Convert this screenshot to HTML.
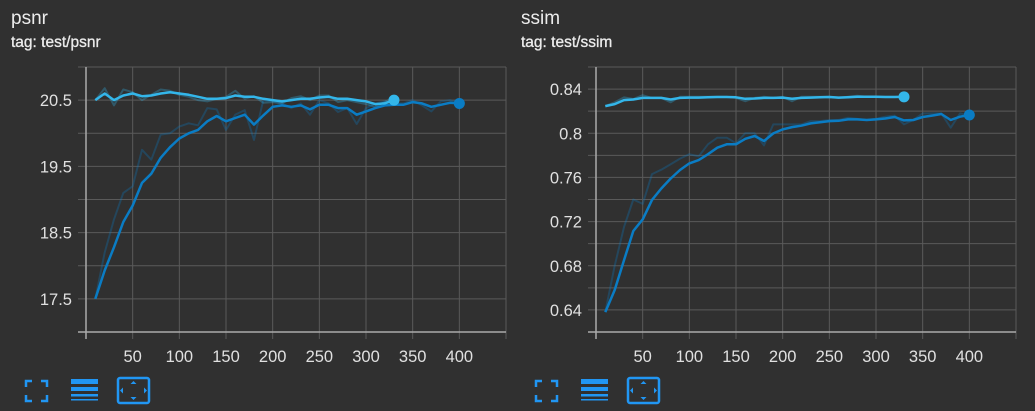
<!DOCTYPE html>
<html><head><meta charset="utf-8">
<style>
html,body{margin:0;padding:0;background:#303030;width:1035px;height:411px;overflow:hidden;font-family:"Liberation Sans",sans-serif;}
svg{position:absolute;left:0;top:0;}
</style></head>
<body>
<svg id="chart" width="1035" height="411" viewBox="0 0 1035 411"></svg>
<script>
const steps1 = [10,20,30,40,50,60,70,80,90,100,110,120,130,140,150,160,170,180,190,200,210,220,230,240,250,260,270,280,290,300,310,320,330];
const steps2 = [10,20,30,40,50,60,70,80,90,100,110,120,130,140,150,160,170,180,190,200,210,220,230,240,250,260,270,280,290,300,310,320,330,340,350,360,370,380,390,400];
const xTicks = [50,100,150,200,250,300,350,400];

const psnrLightSmooth = [20.5,20.6,20.5,20.57,20.6,20.56,20.57,20.6,20.62,20.6,20.58,20.55,20.52,20.52,20.53,20.57,20.55,20.55,20.52,20.5,20.48,20.5,20.52,20.52,20.54,20.55,20.52,20.52,20.5,20.48,20.44,20.45,20.5];
const psnrLightRaw = [20.5,20.68,20.42,20.66,20.62,20.5,20.58,20.66,20.64,20.58,20.55,20.5,20.48,20.52,20.55,20.64,20.52,20.56,20.46,20.47,20.45,20.53,20.56,20.5,20.57,20.57,20.47,20.5,20.47,20.44,20.4,20.47,20.55];
const psnrDarkSmooth = [17.5,17.93,18.28,18.66,18.91,19.25,19.39,19.63,19.79,19.92,20.0,20.05,20.18,20.26,20.18,20.23,20.28,20.13,20.27,20.4,20.42,20.4,20.42,20.36,20.43,20.43,20.38,20.38,20.28,20.33,20.38,20.42,20.43,20.43,20.47,20.45,20.4,20.43,20.46,20.45];
const psnrDarkRaw = [17.5,18.2,18.7,19.1,19.2,19.75,19.6,19.98,20.0,20.1,20.15,20.12,20.38,20.36,20.05,20.28,20.35,19.9,20.5,20.48,20.45,20.38,20.45,20.28,20.5,20.45,20.32,20.38,20.14,20.38,20.45,20.48,20.45,20.45,20.5,20.42,20.33,20.48,20.5,20.45];
const psnrTicks = [17.5,18.5,19.5,20.5];

const ssimLightSmooth = [0.8246,0.8264,0.83,0.8306,0.832,0.832,0.832,0.8306,0.832,0.8323,0.8323,0.8326,0.8328,0.8328,0.8326,0.8312,0.8315,0.832,0.832,0.8323,0.8312,0.832,0.8323,0.8326,0.8328,0.8323,0.8326,0.833,0.833,0.833,0.8328,0.8328,0.833];
const ssimLightRaw = [0.8246,0.828,0.8325,0.831,0.8345,0.832,0.832,0.828,0.833,0.833,0.833,0.833,0.833,0.833,0.832,0.829,0.832,0.833,0.832,0.833,0.829,0.833,0.833,0.833,0.833,0.832,0.833,0.834,0.833,0.833,0.833,0.833,0.833];
const ssimDarkSmooth = [0.638,0.658,0.685,0.7115,0.722,0.7396,0.75,0.759,0.7667,0.7727,0.7757,0.781,0.7869,0.79,0.79,0.795,0.7975,0.793,0.7999,0.8035,0.8056,0.8068,0.8089,0.81,0.811,0.8113,0.8125,0.8125,0.812,0.8125,0.8134,0.8147,0.8116,0.812,0.8147,0.816,0.8174,0.812,0.815,0.8165];
const ssimDarkRaw = [0.638,0.68,0.715,0.74,0.736,0.763,0.767,0.772,0.777,0.781,0.779,0.79,0.796,0.796,0.791,0.8,0.8,0.789,0.808,0.808,0.808,0.808,0.811,0.811,0.812,0.812,0.814,0.813,0.812,0.813,0.815,0.816,0.808,0.812,0.818,0.818,0.818,0.805,0.818,0.816];
const ssimTicks = [0.64,0.68,0.72,0.76,0.8,0.84];

const NS = "http://www.w3.org/2000/svg";
const svg = document.getElementById('chart');
function mk(tag, attrs, parent){
  const e = document.createElementNS(NS, tag);
  for (const k in attrs) e.setAttribute(k, attrs[k]);
  (parent||svg).appendChild(e);
  return e;
}
const LIGHT = "#33b6ea", DARK = "#0a7cc4";

function drawChart(o){
  const g = mk('g', {});
  
  
  const x0 = o.left, x1 = o.left + 420, yTop = 67, yBot = 332;
  const xs = v => x0 + (v - 0) / 450 * 420;
  const ys = v => yBot - (v - o.ymin) / (o.ymax - o.ymin) * (yBot - yTop);

  const t1 = mk('text', {x: o.titleX, y: 24, fill: '#ececec', 'font-size': 19}, g);
  t1.textContent = o.name;
  
  
  const t2 = mk('text', {x: o.titleX, y: 47, fill: '#ececec', 'font-size': 15.5, stroke: '#ececec', 'stroke-width': 0.3}, g);
  t2.textContent = 'tag: test/' + o.name;
  
  

  for (let v = o.ymin; v <= o.ymax + 1e-9; v += o.gridStep) {
    const y = ys(v);
    const l = mk('line', {x1: x0 - 8, x2: x1, y1: y, y2: y, stroke: '#5a5a5a', 'stroke-width': 1}, g);
    
    
  }
  for (let v = 50; v <= 450; v += 50) {
    const x = xs(v);
    const l = mk('line', {x1: x, x2: x, y1: yTop, y2: yBot + 7, stroke: '#5a5a5a', 'stroke-width': 1}, g);
    
    
  }
  const ax = mk('line', {x1: x0, x2: x0, y1: yTop, y2: yBot + 7, stroke: '#aaa', 'stroke-width': 1.5}, g);
  
  
  const axx = mk('line', {x1: x0 - 8, x2: x1, y1: yBot, y2: yBot, stroke: '#aaa', 'stroke-width': 1.5}, g);
  
  

  o.yTicks.forEach(v => {
    const t = mk('text', {x: x0 - 14, y: ys(v) + 6, fill: '#e0e0e0', 'font-size': 16.5, 'text-anchor': 'end'}, g);
    t.textContent = o.fmt(v);
    
    
  });
  xTicks.forEach(v => {
    const t = mk('text', {x: xs(v), y: 362, fill: '#e0e0e0', 'font-size': 16.5, 'text-anchor': 'middle'}, g);
    t.textContent = v;
    
    
  });

  function line(steps, vals, color, op, w, name){
    const d = steps.map((s, i) => (i ? 'L' : 'M') + xs(s).toFixed(1) + ',' + ys(vals[i]).toFixed(1)).join('');
    const p = mk('path', {d: d, fill: 'none', stroke: color, 'stroke-opacity': op, 'stroke-width': w, 'stroke-linejoin': 'round'}, g);
    
    
  }
  line(steps2, o.darkRaw, DARK, 0.3, 2, 'run2-raw-line');
  line(steps1, o.lightRaw, LIGHT, 0.3, 2, 'run1-raw-line');
  line(steps2, o.darkSmooth, DARK, 1, 2.5, 'run2-smoothed-line');
  line(steps1, o.lightSmooth, LIGHT, 1, 2.5, 'run1-smoothed-line');
  const c1 = mk('circle', {cx: xs(steps1[steps1.length-1]), cy: ys(o.lightSmooth[o.lightSmooth.length-1]), r: 5.5, fill: LIGHT}, g);
  
  
  const c2 = mk('circle', {cx: xs(steps2[steps2.length-1]), cy: ys(o.darkSmooth[o.darkSmooth.length-1]), r: 5.5, fill: DARK}, g);
  
  

  const ix = o.iconX, blue = '#2196f3';
  const fs = mk('g', {fill: 'none', stroke: blue, 'stroke-width': 2.5}, g);
  
  
  mk('path', {d: `M${ix},${387}v-6h6 M${ix+15},${381}h6v6 M${ix},${395}v6h6 M${ix+15},${401}h6v-6`}, fs);
  const ls = mk('g', {fill: blue}, g);
  
  
  mk('rect', {x: ix+45, y: 379, width: 27, height: 5}, ls);
  mk('rect', {x: ix+45, y: 387, width: 27, height: 4}, ls);
  mk('rect', {x: ix+45, y: 394, width: 27, height: 2.5}, ls);
  mk('rect', {x: ix+45, y: 399, width: 27, height: 1.5}, ls);
  const ft = mk('g', {}, g);
  
  
  mk('rect', {x: ix+92, y: 378, width: 31, height: 25, rx: 2, fill: 'none', stroke: blue, 'stroke-width': 2.5}, ft);
  mk('path', {d: `M${ix+104.5},384 l3,-3 l3,3z M${ix+104.5},397 l3,3 l3,-3z M${ix+97},387.5 l-3,3 l3,3z M${ix+118},387.5 l3,3 l-3,3z`, fill: blue}, ft);
}

drawChart({name:'psnr', left:86, titleX:11, iconX:26, ymin:17, ymax:21, gridStep:0.5, yTicks:psnrTicks,
  fmt:v=>v.toFixed(1), lightSmooth:psnrLightSmooth, lightRaw:psnrLightRaw, darkSmooth:psnrDarkSmooth, darkRaw:psnrDarkRaw});
drawChart({name:'ssim', left:596, titleX:521, iconX:536, ymin:0.62, ymax:0.86, gridStep:0.02, yTicks:ssimTicks,
  fmt:v=>String(+v.toFixed(2)), lightSmooth:ssimLightSmooth, lightRaw:ssimLightRaw, darkSmooth:ssimDarkSmooth, darkRaw:ssimDarkRaw});
</script>
</body></html>
